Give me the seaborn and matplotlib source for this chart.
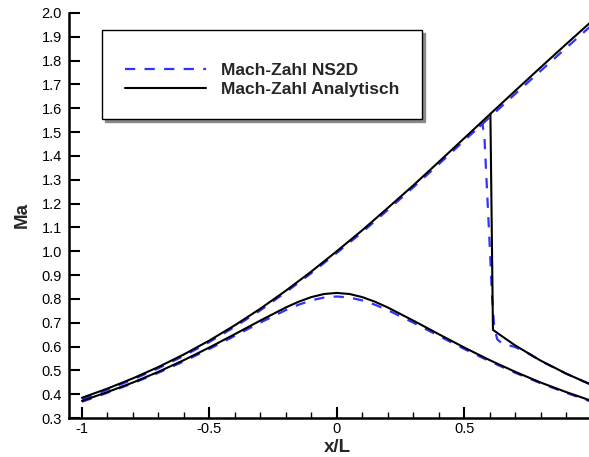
import matplotlib
matplotlib.use("Agg")
import matplotlib.pyplot as plt
from matplotlib.lines import Line2D
from matplotlib.ticker import MultipleLocator, FixedLocator, FormatStrFormatter
import pandas as pd
import seaborn as sns

# Mach number along the axis of a symmetric Laval nozzle (x/L from -1 to 1)
x_grid = [-1.0, -0.9, -0.8, -0.7, -0.6, -0.5, -0.4, -0.3, -0.2, -0.1, 0.0,
          0.1, 0.2, 0.3, 0.4, 0.5, 0.6, 0.7, 0.8, 0.9, 1.0]

# sonic throat: subsonic inlet, supersonic outlet
ma_super_analytic = [0.385, 0.4235, 0.4665, 0.5141, 0.567, 0.6252, 0.6893, 0.7588, 0.8343, 0.9147, 1.0,
                     1.088, 1.1815, 1.276, 1.3746, 1.474, 1.5737, 1.6731, 1.7716, 1.869, 1.9648]
ma_super_ns2d = [0.380, 0.419, 0.462, 0.509, 0.561, 0.619, 0.683, 0.752, 0.828, 0.908, 0.993,
                 1.080, 1.173, 1.268, 1.365, 1.464, 1.562, 1.660, 1.757, 1.853, 1.948]

# purely subsonic flow (venturi)
x_sub = [-1.0, -0.9, -0.8, -0.7, -0.6, -0.5, -0.4, -0.3, -0.2, -0.15, -0.1, -0.05, 0.0,
         0.05, 0.1, 0.15, 0.2, 0.3, 0.4, 0.5, 0.6, 0.7, 0.8, 0.9, 1.0]
ma_sub_analytic = [0.372, 0.409, 0.449, 0.494, 0.543, 0.596, 0.652, 0.709, 0.764, 0.788, 0.8075, 0.8205, 0.825,
                   0.8205, 0.8075, 0.788, 0.764, 0.709, 0.652, 0.596, 0.543, 0.494, 0.449, 0.409, 0.372]
ma_sub_ns2d = [0.368, 0.406, 0.446, 0.490, 0.538, 0.590, 0.645, 0.7005, 0.753, 0.7755, 0.7937, 0.8057, 0.810,
               0.8057, 0.7937, 0.7755, 0.753, 0.7005, 0.645, 0.590, 0.538, 0.490, 0.446, 0.406, 0.368]

# normal shock in the divergent part and subsonic recovery behind it
x_shock_analytic = [0.603, 0.613, 0.65, 0.7, 0.8, 0.9, 1.0]
ma_shock_analytic = [1.577, 0.670, 0.642, 0.605, 0.541, 0.4866, 0.439]
x_shock_ns2d = [0.56, 0.572, 0.58, 0.59, 0.60, 0.61, 0.618, 0.63, 0.65, 0.70, 0.75, 0.8, 0.9, 1.0]
ma_shock_ns2d = [1.523, 1.535, 1.47, 1.25, 1.03, 0.80, 0.68, 0.63, 0.612, 0.598, 0.572, 0.540, 0.486, 0.439]

LBL_NS = "Mach-Zahl NS2D"
LBL_AN = "Mach-Zahl Analytisch"

frames = []
for curve, xs, ys, src in [
    ("super", x_grid, ma_super_ns2d, LBL_NS),
    ("sub", x_sub, ma_sub_ns2d, LBL_NS),
    ("shock", x_shock_ns2d, ma_shock_ns2d, LBL_NS),
    ("super", x_grid, ma_super_analytic, LBL_AN),
    ("sub", x_sub, ma_sub_analytic, LBL_AN),
    ("shock", x_shock_analytic, ma_shock_analytic, LBL_AN),
]:
    frames.append(pd.DataFrame({"x/L": xs, "Ma": ys, "curve": curve + src, "source": src}))
df = pd.concat(frames, ignore_index=True)

sns.set_style("white")
plt.rcParams["font.family"] = ["Liberation Sans", "DejaVu Sans"]

fig = plt.figure(figsize=(5.89, 4.57), dpi=100)
ax = fig.add_axes([69 / 589, 39 / 457, 520 / 589, 405 / 457])

blue = "#3232ff"
dash_ns = (4.6, 4.2)
sns.lineplot(data=df[df["source"] == LBL_NS], x="x/L", y="Ma", units="curve", estimator=None,
             sort=False, color=blue, lw=1.6, ax=ax, legend=False,
             linestyle=(0, dash_ns))
sns.lineplot(data=df[df["source"] == LBL_AN], x="x/L", y="Ma", units="curve", estimator=None,
             sort=False, color="black", lw=1.5, ax=ax, legend=False)

ax.set_xlim(-1.051, 0.990)
ax.set_ylim(0.3, 2.0)

for side in ("top", "right"):
    ax.spines[side].set_visible(False)
for side in ("left", "bottom"):
    ax.spines[side].set_linewidth(1.8)
    ax.spines[side].set_color("black")

ax.xaxis.set_major_locator(FixedLocator([-1.0, -0.5, 0.0, 0.5]))
ax.xaxis.set_minor_locator(MultipleLocator(0.1))
ax.yaxis.set_major_locator(MultipleLocator(0.1))
ax.yaxis.set_minor_locator(plt.NullLocator())
ax.yaxis.set_major_formatter(FormatStrFormatter("%.1f"))
ax.set_xticklabels(["-1", "-0.5", "0", "0.5"])
ax.tick_params(bottom=True, left=True, top=False, right=False, which="both")
ax.tick_params(axis="both", which="major", direction="in", length=8, width=1.5,
               labelsize=10.5, color="black", labelcolor="black")
ax.tick_params(axis="x", which="minor", direction="in", length=4.5, width=1.0, color="black")
ax.tick_params(axis="y", which="major", pad=5)
ax.tick_params(axis="x", which="major", pad=3)

ax.set_xlabel("x/L", fontsize=13.5, fontweight="bold", va="center")
ax.set_ylabel("Ma", fontsize=13.5, fontweight="bold", va="center")
ax.xaxis.set_label_coords((337 - 69) / 520, (418 - 447) / 405)
ax.yaxis.set_label_coords((22 - 69) / 520, (418 - 215) / 405)

handles = [
    Line2D([], [], color=blue, lw=1.6, linestyle=(0, dash_ns)),
    Line2D([], [], color="black", lw=1.5),
]
# a blank title gives the extra space above the two entries
leg = ax.legend(handles, [LBL_NS, LBL_AN], loc="upper left",
                bbox_to_anchor=(102 / 589, 1 - 30 / 457), bbox_transform=fig.transFigure,
                borderaxespad=0, frameon=True, fancybox=False,
                shadow={"color": "#8a8a8a", "alpha": 1.0},
                title=" ", title_fontsize=5.5,
                prop={"weight": "bold", "size": 12.5}, borderpad=1.3,
                handlelength=4.7, handletextpad=0.85, labelspacing=0.2)
leg.get_frame().set_edgecolor("black")
leg.get_frame().set_linewidth(1.0)
leg.get_frame().set_facecolor("white")

fig.savefig("out.png", dpi=100)
